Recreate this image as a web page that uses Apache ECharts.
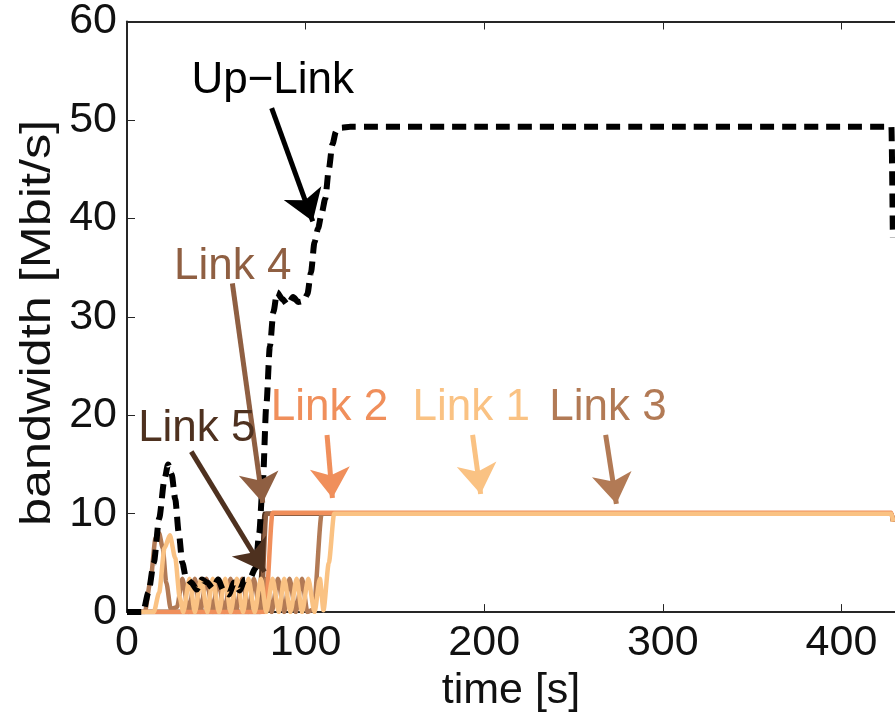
<!DOCTYPE html>
<html>
<head>
<meta charset="utf-8">
<script src="https://cdn.jsdelivr.net/npm/echarts@6/dist/echarts.min.js"></script>
<style>html,body{margin:0;padding:0;background:#fff}#c{width:895px;height:718px}</style>
</head>
<body>
<div id="c"></div>
<script>
// ---- data (time [s], bandwidth [Mbit/s]) ----
var upTime  = [0, 9, 12, 15, 18, 21, 23, 25, 27, 29, 31, 33, 36, 39, 42, 45, 48, 51, 54, 57, 60, 63, 66, 69, 72, 74, 76, 78, 80, 82, 84, 87, 90, 93, 96, 99, 101, 103, 105, 107, 109, 111, 113, 115, 117, 120, 125, 200, 300, 400, 428, 428.8];
var upValue = [0, 0, 2, 5, 9.5, 13.5, 15, 14, 11.5, 8, 5, 3.5, 3, 2.3, 3.3, 3, 2.4, 3.3, 2.2, 1.8, 3.0, 2.2, 3.3, 3.5, 4.5, 8, 13, 21, 27, 30.5, 32.5, 31.8, 31.2, 32, 31.5, 31.6, 32.3, 34.5, 37.6, 39, 40.5, 42, 45, 47.5, 48.8, 49.2, 49.3, 49.3, 49.3, 49.3, 49.3, 38];

var link1Time  = [0, 15, 18, 21, 24, 27, 29.5, 31.5, 35, 38, 41.5, 45, 48, 51.5, 55, 58, 61.5, 65, 68, 71.5, 75, 78, 81.5, 85, 88, 91.5, 95, 98, 101.5, 105, 108, 110, 113, 116, 428, 429];
var link1Value = [0, 0, 2, 6.5, 7.8, 5.5, 1.5, 0, 3.4, 0, 3.4, 0, 3.4, 0, 3.4, 0, 3.4, 0, 3.4, 0, 3.4, 0, 3.4, 0, 3.4, 0, 3.4, 0, 3.4, 0, 3.4, 0.2, 5, 10, 10, 9.2];

var link2Time  = [0, 77.5, 81.5, 428, 429];
var link2Value = [0, 0, 10.1, 10.1, 9.2];

var link3Time  = [0, 10, 13, 16, 18, 20, 22, 24.5, 28, 31, 34.5, 38, 41, 44.5, 48, 51, 54.5, 58, 61, 64.5, 68, 71, 74.5, 78, 81, 84.5, 88, 91, 94.5, 98, 101, 104.5, 109, 428, 429];
var link3Value = [0, 0, 3, 7.5, 8, 6.5, 3, 0.3, 0.5, 3.4, 0, 3.4, 0, 3.4, 0, 3.4, 0, 3.4, 0, 3.4, 0, 3.4, 0, 3.4, 0, 3.4, 0, 3.4, 0, 3.4, 0, 0.3, 10, 10, 9.2];

var link4Time  = [0, 75, 78, 428, 429];
var link4Value = [0, 0, 10, 10, 9.2];

var link5Time  = [0, 74, 75.5, 77, 428, 429];
var link5Value = [0, 0, 4.5, 10, 10, 9.2];

var xTicks = [0, 100, 200, 300, 400];
var yTicks = [0, 10, 20, 30, 40, 50, 60];

// annotation anchors in data coordinates
var labelPos = {
  'Up\u2212Link': [81.6, 54.0],
  'Link 4': [59.2, 35.1],
  'Link 5': [39.1, 18.6],
  'Link 2': [113.4, 20.7],
  'Link 1': [192.7, 20.7],
  'Link 3': [269.3, 20.7]
};
var arrowPos = {
  'Up\u2212Link': [[81, 51.2], [104, 39.7]],
  'Link 4': [[59, 33.4], [76, 11.1]],
  'Link 5': [[36, 16.3], [77, 4.1]],
  'Link 2': [[112, 18], [115, 11.6]],
  'Link 1': [[193.5, 18], [198, 12]],
  'Link 3': [[268, 18], [274, 11]]
};

var colors = {
  'Link 1': '#FAC283',
  'Link 2': '#F08F5B',
  'Link 3': '#B27A55',
  'Link 4': '#8F5F42',
  'Link 5': '#4E311F',
  'Up\u2212Link': '#000000'
};

function zip(t, v) { return t.map(function (x, i) { return [x, v[i]]; }); }

var FONT = '"Liberation Sans", Arial, Helvetica, sans-serif';

function annot(name) {
  return {
    markPoint: {
      silent: true,
      symbol: 'circle', symbolSize: 0,
      label: { show: true, position: 'inside', formatter: name, color: colors[name], fontSize: 44, fontFamily: FONT },
      data: [{ coord: labelPos[name] }]
    },
    markLine: {
      silent: true,
      symbol: ['none', 'arrow'],
      symbolSize: 30,
      label: { show: false },
      lineStyle: { color: colors[name], width: 5, type: 'solid' },
      emphasis: { disabled: true },
      data: [[{ coord: arrowPos[name][0] }, { coord: arrowPos[name][1] }]]
    }
  };
}

function linkSeries(name, t, v) {
  var s = {
    name: name, type: 'line', data: zip(t, v),
    showSymbol: false, symbol: 'none', smooth: 0.25, smoothMonotone: 'x',
    lineStyle: { color: colors[name], width: 4.5 },
    itemStyle: { color: colors[name] },
    clip: true, z: 2
  };
  var a = annot(name);
  s.markPoint = a.markPoint; s.markLine = a.markLine;
  return s;
}

var upSeries = linkSeries('Up\u2212Link', upTime, upValue);
upSeries.lineStyle = { color: '#000', width: 6, type: [14, 8] };
upSeries.z = 3;

var chart = echarts.init(document.getElementById('c'), null, { renderer: 'canvas' });
var axisCol = '#262626';
chart.setOption({
  animation: false,
  backgroundColor: '#ffffff',
  grid: { left: 127, right: -2, top: 20, bottom: 100, containLabel: false },
  xAxis: [{
    type: 'value', min: 0, max: 430, interval: 100,
    name: 'time [s]', nameLocation: 'middle', nameGap: 53,
    nameTextStyle: { fontSize: 43, color: '#111', fontFamily: FONT },
    axisLine: { show: true, lineStyle: { color: axisCol, width: 2 } },
    axisTick: { show: true, inside: true, length: 8, lineStyle: { color: axisCol, width: 1 } },
    axisLabel: { fontSize: 43, color: '#111', fontFamily: FONT, margin: 10, showMaxLabel: false,
      formatter: function (v) { return xTicks.indexOf(v) >= 0 ? String(v) : ''; } },
    splitLine: { show: false }
  }, {
    type: 'value', min: 0, max: 430, interval: 100, position: 'top',
    axisLine: { show: true, lineStyle: { color: axisCol, width: 2 } },
    axisTick: { show: true, inside: true, length: 8, lineStyle: { color: axisCol, width: 1 } },
    axisLabel: { show: false }, splitLine: { show: false }
  }],
  yAxis: {
    type: 'value', min: 0, max: 60, interval: 10,
    axisLine: { show: true, lineStyle: { color: axisCol, width: 2 } },
    axisTick: { show: true, inside: true, length: 8, lineStyle: { color: axisCol, width: 1 } },
    axisLabel: { fontSize: 43, color: '#111', fontFamily: FONT, margin: 10,
      formatter: function (v) { return yTicks.indexOf(v) >= 0 ? String(v) : ''; } },
    splitLine: { show: false }
  },
  graphic: [{
    type: 'text', x: 38, y: 323, rotation: Math.PI / 2, scaleX: 1.2,
    style: { text: 'bandwidth [Mbit/s]', font: '42px ' + FONT, fill: '#111', textAlign: 'center', textVerticalAlign: 'middle' }
  }],
  series: [
    linkSeries('Link 5', link5Time, link5Value),
    linkSeries('Link 4', link4Time, link4Value),
    linkSeries('Link 3', link3Time, link3Value),
    linkSeries('Link 2', link2Time, link2Value),
    linkSeries('Link 1', link1Time, link1Value),
    upSeries
  ]
});
</script>
</body>
</html>
